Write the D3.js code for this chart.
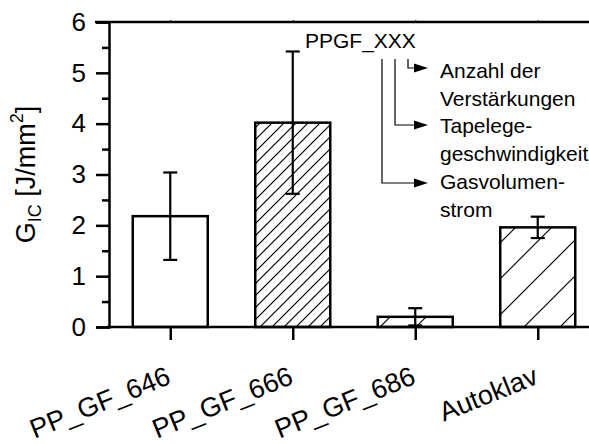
<!DOCTYPE html>
<html>
<head>
<meta charset="utf-8">
<script src="https://cdn.jsdelivr.net/npm/d3@7"></script>
<style>
  body { margin: 0; background: #fff; }
  svg text { font-family: Arial, "Liberation Sans", sans-serif; fill: #000; }
</style>
</head>
<body>
<div id="chart-area"></div>
<script>
// data
var categories = ["PP_GF_646", "PP_GF_666", "PP_GF_686", "Autoklav"];
var means = [2.18, 4.02, 0.2, 1.96];
var errors = [0.86, 1.40, 0.17, 0.21];
var yTicks = [0, 1, 2, 3, 4, 5, 6];
var yMinorTicks = [0.5, 1.5, 2.5, 3.5, 4.5, 5.5];
var noteTitle = "PPGF_XXX";
var noteLines = [
  ["Anzahl der", "Verstärkungen"],
  ["Tapelege-", "geschwindigkeit"],
  ["Gasvolumen-", "strom"]
];

var margin = { left: 109, right: -10, top: 22, bottom: 117 },
  width = 589 - margin.left - margin.right,
  height = 444 - margin.top - margin.bottom;

var svg = d3
  .select("#chart-area")
  .append("svg")
  .attr("width", 589)
  .attr("height", 444);

var defs = svg.append("defs");
function hatch(id, step) {
  var p = defs
    .append("pattern")
    .attr("id", id)
    .attr("patternUnits", "userSpaceOnUse")
    .attr("width", step)
    .attr("height", step);
  p.append("path")
    .attr("d", "M0," + step + " L" + step + ",0 M" + (-step / 4) + "," + (step / 4) + " L" + (step / 4) + "," + (-step / 4) +
      " M" + (step * 3 / 4) + "," + (step * 5 / 4) + " L" + (step * 5 / 4) + "," + (step * 3 / 4))
    .attr("stroke", "#000")
    .attr("stroke-width", 1.2)
    .attr("fill", "none");
}
hatch("hatchDense", 12);
hatch("hatchSparse", 36);
var fills = ["#fff", "url(#hatchDense)", "url(#hatchSparse)", "url(#hatchSparse)"];

var g = svg
  .append("g")
  .attr("transform", "translate(" + margin.left + ", " + margin.top + ")");

// Scales
var x = d3.scalePoint().domain(categories).range([0, width]).padding(0.5);
var y = d3.scaleLinear().domain([0, 6]).range([height, 0]);
var barWidth = 75;

// Bars
g.selectAll(".bar")
  .data(categories)
  .enter()
  .append("rect")
  .attr("class", "bar")
  .attr("x", function(d) { return x(d) - barWidth / 2; })
  .attr("y", function(d, i) { return y(means[i]); })
  .attr("width", barWidth)
  .attr("height", function(d, i) { return height - y(means[i]); })
  .attr("fill", function(d, i) { return fills[i]; })
  .attr("stroke", "#000")
  .attr("stroke-width", 2.5);

// Error bars
var eb = g.selectAll(".err").data(categories).enter().append("g").attr("class", "err");
eb.append("line")
  .attr("x1", function(d) { return x(d); })
  .attr("x2", function(d) { return x(d); })
  .attr("y1", function(d, i) { return y(means[i] + errors[i]); })
  .attr("y2", function(d, i) { return y(means[i] - errors[i]); });
eb.append("line")
  .attr("x1", function(d) { return x(d) - 7; })
  .attr("x2", function(d) { return x(d) + 7; })
  .attr("y1", function(d, i) { return y(means[i] + errors[i]); })
  .attr("y2", function(d, i) { return y(means[i] + errors[i]); });
eb.append("line")
  .attr("x1", function(d) { return x(d) - 7; })
  .attr("x2", function(d) { return x(d) + 7; })
  .attr("y1", function(d, i) { return y(means[i] - errors[i]); })
  .attr("y2", function(d, i) { return y(means[i] - errors[i]); });
eb.selectAll("line").attr("stroke", "#000").attr("stroke-width", 2.2);

// Axes
var yAxis = g.append("g").attr("class", "y axis")
  .call(d3.axisLeft(y).tickValues(yTicks).tickSize(13).tickPadding(10).tickFormat(d3.format("d")));
var yMinor = g.append("g").attr("class", "y minor")
  .call(d3.axisLeft(y).tickValues(yMinorTicks).tickSize(7).tickFormat(""));
yMinor.select(".domain").remove();

var xAxis = g.append("g").attr("class", "x axis")
  .attr("transform", "translate(0," + height + ")")
  .call(d3.axisBottom(x).tickSize(13).tickSizeOuter(0).tickFormat(""));
xAxis.select(".domain").attr("d", "M-2,0H" + width);

var topAxis = g.append("g").attr("class", "x top")
  .call(d3.axisTop(x).tickSize(2).tickSizeOuter(0).tickFormat(""));
topAxis.select(".domain").attr("d", "M-14,0H" + width);

g.selectAll(".axis path, .axis line, .top path, .minor line")
  .attr("stroke", "#000")
  .attr("stroke-width", 2.5);
g.selectAll(".top line").attr("stroke-width", 1);
yAxis.selectAll("text").attr("font-size", "26px").attr("font-family", "Arial, 'Liberation Sans', sans-serif");

// Category labels, rotated
g.selectAll(".xlabel")
  .data(categories)
  .enter()
  .append("text")
  .attr("class", "xlabel")
  .attr("text-anchor", "end")
  .attr("font-size", "27px")
  .attr("transform", function(d) {
    return "translate(" + (x(d) + 2) + "," + (height + 56) + ") rotate(-22)";
  })
  .text(function(d) { return d; });

// Y label
var yLabel = svg.append("text")
  .attr("transform", "translate(35," + (margin.top + height / 2) + ") rotate(-90)")
  .attr("text-anchor", "middle")
  .attr("font-size", "27px");
yLabel.append("tspan").text("G");
yLabel.append("tspan").attr("font-size", "18px").attr("dy", 6).text("IC");
yLabel.append("tspan").attr("dy", -6).text(" [J/mm");
yLabel.append("tspan").attr("font-size", "18px").attr("dy", -12).text("2");
yLabel.append("tspan").attr("dy", 12).text("]");

// Annotation
svg.append("text")
  .attr("x", 305)
  .attr("y", 48)
  .attr("font-size", "21px")
  .text(noteTitle);

var stems = [408, 395, 382];
var arrowY = [68, 125, 183];
var textTop = [78, 133, 189];
stems.forEach(function(sx, i) {
  svg.append("path")
    .attr("d", "M" + sx + ",59V" + arrowY[i] + "H416")
    .attr("fill", "none")
    .attr("stroke", "#000")
    .attr("stroke-width", 1.2);
  svg.append("path")
    .attr("d", "M414," + (arrowY[i] - 4.5) + "L428," + arrowY[i] + "L414," + (arrowY[i] + 4.5) + "Z")
    .attr("fill", "#000");
  noteLines[i].forEach(function(t, j) {
    svg.append("text")
      .attr("x", 440)
      .attr("y", textTop[i] + j * 27.5)
      .attr("font-size", "21px")
      .text(t);
  });
});
</script>
</body>
</html>
